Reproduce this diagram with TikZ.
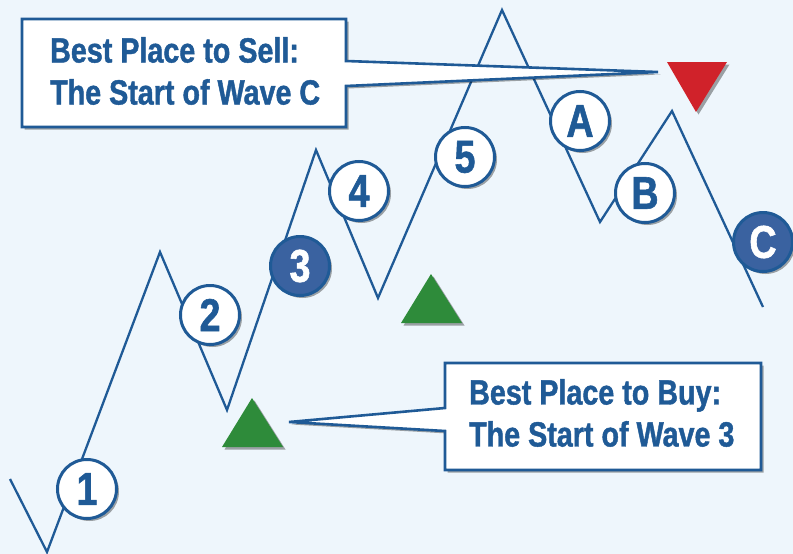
\documentclass[tikz,border=0pt]{standalone}
\usepackage{fontspec}
\newfontfamily\wavefont[FakeStretch=0.82, BoldFeatures={FakeBold=1.2}]{Liberation Sans}
\usetikzlibrary{shadows,calc}
\definecolor{wavebg}{HTML}{EEF6FC}
\definecolor{waveblue}{HTML}{1F5A96}
\definecolor{wavedark}{HTML}{3A62A0}
\definecolor{buygreen}{HTML}{2E8B3A}
\definecolor{sellred}{HTML}{D0222A}
\tikzset{every picture/.style={line width=2.3pt}}
\tikzset{
  shade/.style={drop shadow={shadow xshift=2.5pt, shadow yshift=-2.5pt, opacity=0.35, fill=black}},
  wave/.style={draw=waveblue, line width=2.3pt, line join=miter},
  count/.style={circle, draw=waveblue, line width=3pt, fill=white, minimum size=59pt, inner sep=0pt,
    text=waveblue, font=\wavefont\bfseries\fontsize{46}{46}\selectfont, shade},
  countdark/.style={count, fill=wavedark, text=white},
  callout/.style={draw=waveblue, line width=2.6pt, fill=white, line join=miter, shade},
  calltext/.style={inner sep=0pt, align=left, text=waveblue, font=\wavefont\bfseries\fontsize{35}{42}\selectfont},
}

\begin{document}
\begin{tikzpicture}[x=1pt, y=-1pt]
    \useasboundingbox[fill=wavebg] (0,0) rectangle (793,554);
    % wave vertices
    \coordinate (w0) at (10,479);
    \coordinate (w1) at (47,552);
    \coordinate (w2) at (160,252);
    \coordinate (w3) at (227,410);
    \coordinate (w4) at (316,150);
    \coordinate (w5) at (378,298);
    \coordinate (w6) at (502,10);
    \coordinate (w7) at (600,222);
    \coordinate (w8) at (672,111);
    \coordinate (w9) at (763,307);
    \draw[wave] (w0) -- (w1) -- (w2) -- (w3) -- (w4) -- (w5) -- (w6) -- (w7) -- (w8) -- (w9);
    % wave counts
    \node[count] (c1) at (87,489) {1};
    \node[count] (c2) at (210,315) {2};
    \node[countdark] (c3) at (300,266) {3};
    \node[count] (c4) at (359,191) {4};
    \node[count] (c5) at (465,157) {5};
    \node[count] (cA) at (580,121) {A};
    \node[count] (cB) at (645,193) {B};
    \node[countdark] (cC) at (763,242) {C};
    % buy and sell marks
    \fill[buygreen, shade] (222,447) -- (252,398) -- (283,447) -- cycle;
    \fill[buygreen, shade] (401,323) -- (431,274) -- (462,323) -- cycle;
    \fill[sellred, shade] (667,62) -- (727,62) -- (696,112) -- cycle;
    % callouts
    \coordinate (selltip) at (658,72);
    \coordinate (buytip) at (289,422);
    \draw[callout] (22,19) -- (346,19) -- (346,61) -- (selltip) -- (346,86) -- (346,127) -- (22,127) -- cycle;
    \node[calltext, anchor=west] (selltext) at (49,71) {Best Place to Sell:\\The Start of Wave C};
    \draw[callout] (445,363) -- (761,363) -- (761,470) -- (445,470) -- (445,431) -- (buytip) -- (445,408) -- cycle;
    \node[calltext, anchor=west] (buytext) at (468,413) {Best Place to Buy:\\The Start of Wave 3};
\end{tikzpicture}
\end{document}
